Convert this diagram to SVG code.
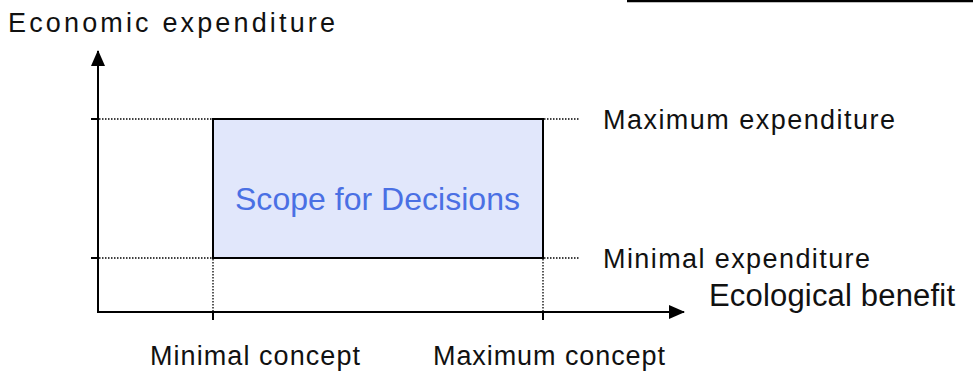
<svg xmlns="http://www.w3.org/2000/svg" width="973" height="373" viewBox="0 0 973 373">
<defs>
<marker id="ah" markerWidth="16" markerHeight="16" refX="15" refY="8" orient="auto" markerUnits="userSpaceOnUse">
<path d="M0,1 L16,8 L0,15 Z" fill="#000"/>
</marker>
<style>
text{font-family:"Liberation Sans","DejaVu Sans",sans-serif;fill:#111;}
.ax{stroke:#000;stroke-width:2;fill:none;}
.dot{stroke:#000;stroke-width:1.3;stroke-dasharray:1.5 1.5;fill:none;}
.lbl{font-size:27px;}
</style>
</defs>
<line x1="627" y1="1" x2="973" y2="1" stroke="#000" stroke-width="2.5"/>
<g id="connectors">
<line class="ax" x1="98" y1="313" x2="98" y2="51" marker-end="url(#ah)"/>
<line class="ax" x1="97" y1="312" x2="684" y2="312" marker-end="url(#ah)"/>
<line class="ax" x1="91" y1="119" x2="98" y2="119"/>
<line class="ax" x1="91" y1="258" x2="98" y2="258"/>
<line class="ax" x1="213" y1="312" x2="213" y2="320"/>
<line class="ax" x1="543" y1="312" x2="543" y2="320"/>
<line class="dot" x1="99" y1="119" x2="212" y2="119"/>
<line class="dot" x1="99" y1="258" x2="212" y2="258"/>
<line class="dot" x1="544" y1="119" x2="580" y2="119"/>
<line class="dot" x1="544" y1="258" x2="580" y2="258"/>
<line class="dot" x1="213" y1="259" x2="213" y2="311"/>
<line class="dot" x1="543" y1="259" x2="543" y2="311"/>
</g>
<g id="scope">
<rect x="213" y="119" width="330" height="139" fill="#e1e7fb" stroke="#000" stroke-width="2"/>
<text x="235" y="210" font-size="32" textLength="285" lengthAdjust="spacing" style="fill:#4a70e4">Scope for Decisions</text>
</g>
<g id="y-label"><text x="8" y="32" font-size="27" textLength="327" lengthAdjust="spacing">Economic expenditure</text></g>
<g id="x-label"><text x="709" y="306" font-size="31" textLength="246" lengthAdjust="spacing">Ecological benefit</text></g>
<g id="max-exp"><text class="lbl" x="603" y="129" textLength="292" lengthAdjust="spacing">Maximum expenditure</text></g>
<g id="min-exp"><text class="lbl" x="603" y="268" textLength="267" lengthAdjust="spacing">Minimal expenditure</text></g>
<g id="min-concept"><text class="lbl" x="150" y="365" textLength="210" lengthAdjust="spacing">Minimal concept</text></g>
<g id="max-concept"><text class="lbl" x="433" y="365" textLength="232" lengthAdjust="spacing">Maximum concept</text></g>
</svg>
